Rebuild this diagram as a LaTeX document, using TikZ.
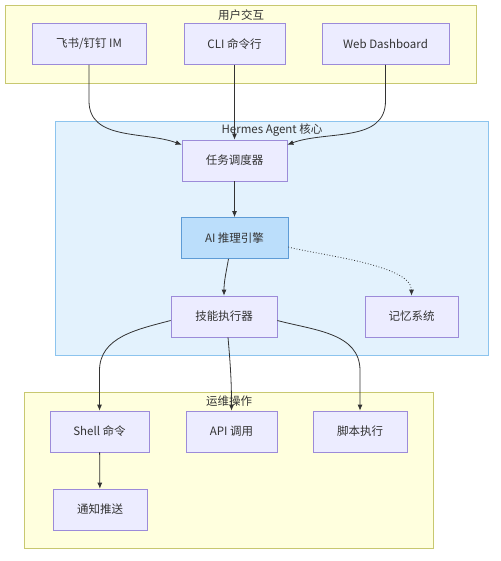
\documentclass[tikz,border=0pt]{standalone}
\usepackage{fontspec}
\setmainfont{Noto Sans CJK SC}
\usetikzlibrary{arrows.meta,positioning}

\definecolor{boxfill}{HTML}{ECECFF}
\definecolor{boxline}{HTML}{9C8BD9}
\definecolor{grpfill}{HTML}{FFFFDE}
\definecolor{grpline}{HTML}{C8C870}
\definecolor{corefill}{HTML}{E3F2FD}
\definecolor{coreline}{HTML}{8CC4EE}
\definecolor{aifill}{HTML}{BBDEFB}
\definecolor{ailine}{HTML}{5E9CD6}
\definecolor{linkcol}{HTML}{333333}

\begin{document}
\begin{tikzpicture}[
    x=1pt, y=-1pt,
    box/.style={rectangle,draw=boxline,fill=boxfill,line width=0.7pt,minimum height=41pt,inner sep=0pt},
    group/.style={draw=grpline,fill=grpfill,line width=0.7pt},
    link/.style={draw=linkcol,line width=0.8pt,->},
    >={Latex[length=6pt,width=5pt]},
    font=\fontsize{11.5}{13}\selectfont,
    text=linkcol
    ]

    \useasboundingbox (0,0) rectangle (500,561);

    % groups:
    \draw[group] (5,5) rectangle (476,83);
    \draw[group,draw=coreline,fill=corefill] (55,121) rectangle (488,355);
    \draw[group] (24,392) rectangle (433,548);

    \node (title1) at (241,15) {用户交互};
    \node (title2) at (272,130) {Hermes Agent 核心};
    \node (title3) at (229,401) {运维操作};

    % user layer:
    \node (im) at (89,44) [box,minimum width=114pt] {飞书/钉钉 IM};
    \node (cli) at (234.5,44) [box,minimum width=101pt] {CLI 命令行};
    \node (web) at (385.5,44) [box,minimum width=127pt] {Web Dashboard};

    % core layer:
    \node (sched) at (234.5,160.5) [box,minimum width=105pt] {任务调度器};
    \node (ai) at (234.5,238) [box,minimum width=107pt,fill=aifill,draw=ailine] {AI 推理引擎};
    \node (skill) at (224,316.5) [box,minimum width=106pt] {技能执行器};
    \node (mem) at (411.5,316.5) [box,minimum width=93pt] {记忆系统};

    % ops layer:
    \node (shell) at (99.5,431.5) [box,minimum width=99pt] {Shell 命令};
    \node (api) at (231.5,431.5) [box,minimum width=91pt] {API 调用};
    \node (script) at (360,431.5) [box,minimum width=94pt] {脚本执行};
    \node (notify) at (100,509.5) [box,minimum width=94pt] {通知推送};

    % connections:
    \draw [link] (im.south) -- ++(0,36) to[out=-90,in=160] ([yshift=-5pt]sched.north west);
    \draw [link] (cli.south) -- (sched.north);
    \draw [link] (web.south) -- ++(0,36) to[out=-90,in=20] ([yshift=-5pt]sched.north east);

    \draw [link] (sched) -- (ai);
    \draw [link] ([xshift=-6pt]ai.south) to[out=-100,in=90] (skill.north);
    \draw [link,dotted] ([yshift=-9pt]ai.east) to[out=-15,in=90,looseness=0.6] (mem.north);

    \draw [link] ([yshift=-4pt]skill.west) to[out=195,in=90] ([yshift=40pt]shell.north) -- (shell.north);
    \draw [link] ([xshift=4pt]skill.south) to[out=-85,in=90] (api.north);
    \draw [link] ([yshift=-4pt]skill.east) to[out=-15,in=90] ([yshift=40pt]script.north) -- (script.north);
    \draw [link] (shell) -- (notify);

  \end{tikzpicture}
\end{document}
